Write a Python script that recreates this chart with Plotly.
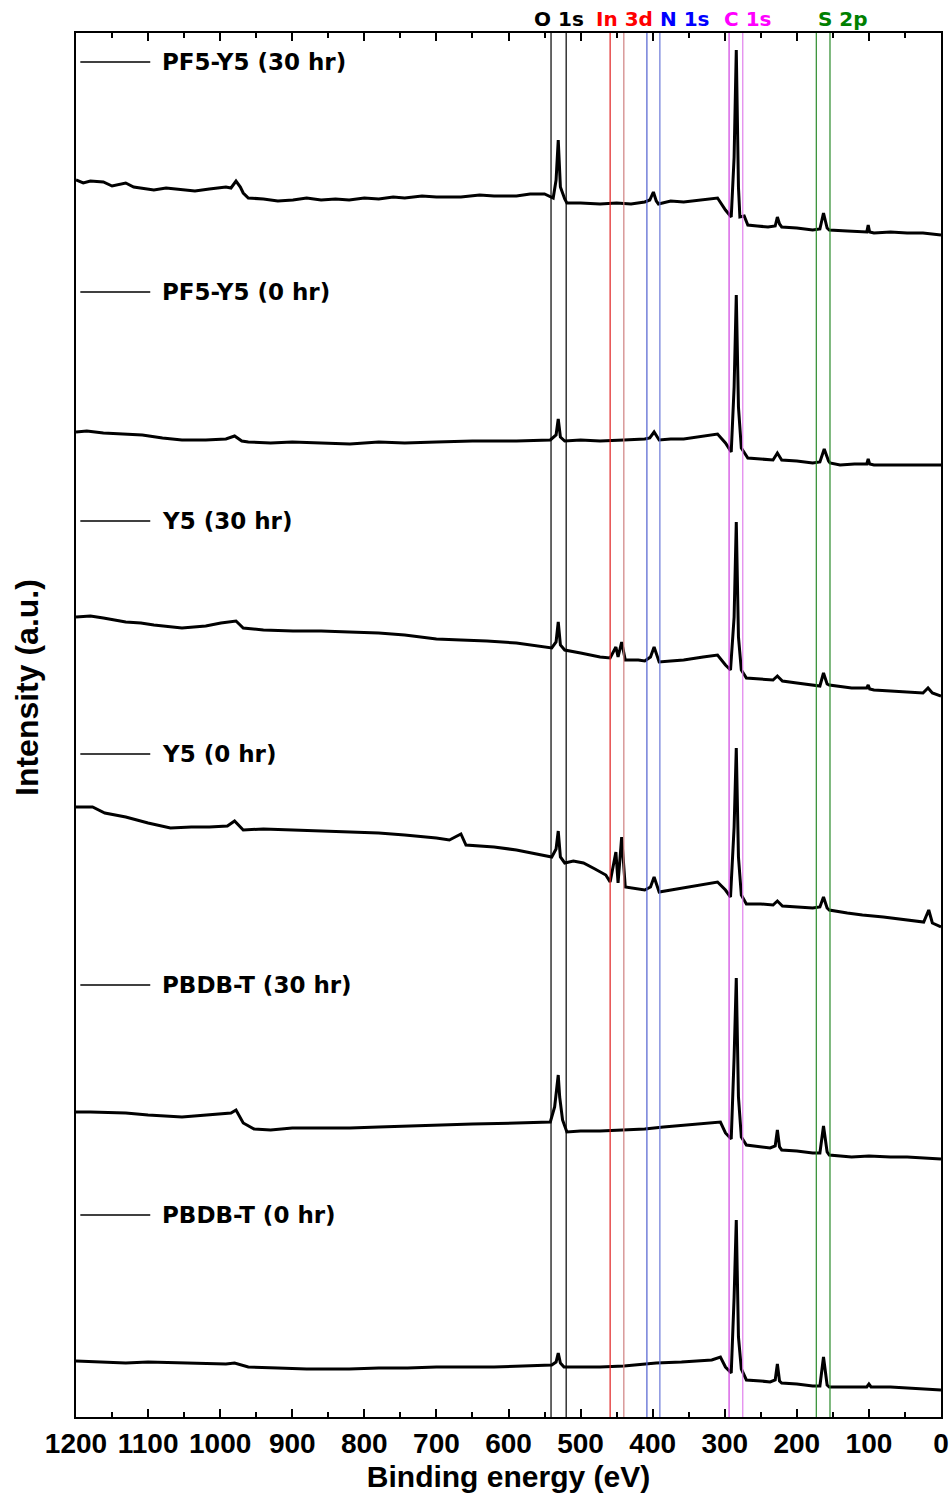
import plotly.graph_objects as go

# ---------------- data (binding energy in eV, intensity in a.u.) ----------------
names = ["PF5-Y5 (30 hr)", "PF5-Y5 (0 hr)", "Y5 (30 hr)", "Y5 (0 hr)", "PBDB-T (30 hr)", "PBDB-T (0 hr)"]

x_pf5y5_30 = [1200, 1190, 1180, 1162, 1150, 1131, 1120, 1092, 1075, 1053, 1035, 1015, 992, 985, 978, 972, 968, 961, 940, 920, 899, 880, 860, 840, 821, 800, 780, 760, 744, 720, 700, 666, 640, 620, 589, 570, 550, 538, 534, 531, 528, 522, 519, 500, 473, 450, 430, 411, 404, 399, 395, 392, 375, 357, 330, 310, 299, 291, 287, 284, 281, 279, 273, 268, 255, 240, 230, 227, 224, 221, 200, 178, 168, 163, 158, 155, 130, 109, 103, 101, 99, 93, 70, 47, 25, 0]
y_pf5y5_30 = [1237, 1234, 1236, 1235, 1231, 1234, 1230, 1227, 1229, 1227, 1226, 1228, 1230, 1229, 1236, 1230, 1224, 1219, 1218, 1216, 1217, 1219, 1217, 1218, 1217, 1219, 1218, 1220, 1219, 1221, 1220, 1220, 1222, 1221, 1221, 1223, 1223, 1219, 1237, 1277, 1230, 1218, 1214, 1214, 1213, 1214, 1213, 1215, 1217, 1225, 1216, 1213, 1216, 1215, 1217, 1219, 1207, 1200, 1260, 1367, 1230, 1200, 1201, 1192, 1191, 1190, 1191, 1200, 1193, 1190, 1189, 1187, 1188, 1204, 1189, 1187, 1186, 1185, 1185, 1192, 1185, 1184, 1185, 1184, 1184, 1182]

x_pf5y5_0 = [1200, 1185, 1162, 1140, 1108, 1080, 1053, 1020, 992, 980, 970, 961, 930, 900, 860, 820, 780, 744, 700, 650, 589, 560, 542, 534, 531, 528, 522, 500, 473, 440, 411, 404, 398, 391, 375, 357, 330, 310, 299, 291, 287, 284, 281, 277, 268, 250, 233, 227, 221, 200, 178, 168, 162, 156, 154, 140, 120, 103, 101, 99, 93, 60, 30, 0]
y_pf5y5_0 = [985, 986, 984, 983, 982, 979, 977, 977, 978, 981, 976, 975, 974, 975, 974, 973, 975, 974, 975, 976, 976, 977, 977, 982, 998, 980, 976, 977, 976, 977, 978, 979, 985, 977, 978, 978, 981, 983, 974, 965, 1030, 1122, 1010, 969, 959, 958, 957, 964, 957, 956, 954, 955, 968, 956, 954, 952, 953, 953, 958, 953, 952, 952, 952, 952]

x_y5_30 = [1200, 1180, 1162, 1131, 1110, 1092, 1053, 1020, 999, 985, 978, 968, 940, 899, 860, 821, 780, 744, 700, 666, 630, 589, 560, 540, 534, 531, 528, 522, 500, 473, 459, 451, 448, 443, 438, 420, 411, 403, 398, 391, 375, 357, 330, 310, 299, 292, 287, 284, 281, 277, 270, 250, 233, 227, 220, 200, 178, 168, 163, 158, 155, 124, 103, 101, 99, 93, 70, 47, 25, 18, 12, 0]
y_y5_30 = [800, 801, 799, 795, 794, 792, 789, 791, 794, 795, 796, 789, 787, 786, 786, 785, 784, 782, 778, 777, 776, 774, 771, 769, 775, 795, 772, 767, 764, 760, 759, 770, 760, 775, 757, 757, 756, 760, 770, 755, 756, 757, 760, 762, 752, 747, 800, 895, 780, 747, 739, 738, 737, 741, 736, 734, 732, 731, 744, 733, 732, 729, 729, 732, 728, 727, 726, 725, 724, 729, 724, 721]

x_y5_0 = [1200, 1177, 1160, 1131, 1100, 1069, 1040, 1015, 990, 980, 968, 940, 899, 860, 821, 780, 744, 700, 682, 666, 659, 620, 589, 560, 540, 534, 531, 528, 522, 510, 496, 480, 465, 459, 451, 448, 443, 438, 420, 411, 403, 398, 391, 375, 357, 330, 310, 299, 292, 287, 284, 281, 277, 270, 250, 233, 227, 220, 200, 178, 168, 163, 158, 155, 130, 109, 80, 47, 24, 17, 12, 0]
y_y5_0 = [610, 610, 604, 600, 594, 589, 590, 590, 591, 596, 587, 588, 587, 586, 585, 584, 582, 579, 577, 583, 572, 570, 567, 563, 560, 568, 586, 560, 554, 556, 554, 548, 542, 535, 565, 534, 580, 530, 528, 527, 530, 540, 525, 527, 529, 532, 535, 527, 520, 590, 669, 560, 522, 513, 513, 512, 516, 511, 510, 509, 510, 520, 509, 507, 504, 502, 500, 497, 495, 507, 494, 490]

x_pbdbt_30 = [1200, 1180, 1131, 1100, 1053, 1020, 992, 985, 978, 972, 968, 953, 930, 900, 860, 820, 780, 744, 700, 650, 589, 560, 542, 536, 533, 531, 529, 525, 519, 500, 473, 440, 411, 385, 357, 330, 306, 299, 291, 287, 284, 281, 277, 270, 250, 237, 230, 227, 224, 221, 200, 178, 168, 163, 158, 155, 124, 100, 70, 47, 0]
y_pbdbt_30 = [305, 305, 304, 302, 300, 302, 303, 304, 307, 300, 294, 288, 287, 289, 289, 289, 290, 291, 292, 293, 294, 295, 295, 310, 330, 342, 320, 297, 285, 286, 286, 287, 288, 290, 292, 294, 295, 284, 278, 360, 439, 320, 280, 272, 270, 269, 271, 287, 270, 267, 266, 264, 264, 291, 265, 262, 260, 261, 260, 260, 258]

x_pbdbt_0 = [1200, 1170, 1131, 1100, 1050, 992, 980, 961, 920, 880, 821, 780, 740, 700, 666, 620, 580, 540, 534, 531, 528, 523, 500, 473, 440, 395, 360, 330, 318, 306, 299, 291, 287, 284, 281, 277, 270, 250, 237, 230, 227, 224, 221, 200, 178, 168, 163, 158, 155, 130, 103, 100, 97, 70, 47, 0]
y_pbdbt_0 = [56, 55, 54, 55, 54, 53, 54, 50, 49, 48, 48, 49, 49, 50, 50, 50, 51, 52, 55, 64, 54, 50, 50, 50, 51, 54, 55, 56, 57, 60, 50, 44, 120, 197, 80, 48, 37, 36, 35, 37, 53, 36, 34, 33, 31, 31, 60, 32, 30, 30, 30, 33, 30, 30, 29, 27]

spectra_x = [x_pf5y5_30, x_pf5y5_0, x_y5_30, x_y5_0, x_pbdbt_30, x_pbdbt_0]
spectra_y = [y_pf5y5_30, y_pf5y5_0, y_y5_30, y_y5_0, y_pbdbt_30, y_pbdbt_0]

# label heights (a.u.) for the in-plot sample labels
label_y = [1355, 1125, 896, 663, 432, 202]

# peak region markers (pairs of binding energies, eV)
regions = ["O 1s", "In 3d", "N 1s", "C 1s", "S 2p"]
region_lines = [[541, 520], [459, 440], [408, 390], [294, 275], [173, 154]]
region_line_colors = [["#000000", "#000000"], ["#e02020", "#d08080"], ["#5060d0", "#6a78d8"],
                      ["#d040e0", "#e080ec"], ["#2a8a2a", "#2a8a2a"]]
region_text_colors = ["#000000", "#ff0000", "#0000ff", "#ff00ff", "#008000"]
region_text_x = [567, 481, 393, 304, 173]

x_ticks = list(range(0, 1201, 100))

# ---------------- figure ----------------
FONT = "Liberation Sans, Arial, sans-serif"
WIDE = "DejaVu Sans, Liberation Sans, sans-serif"
fig = go.Figure()

for xs, ys, nm in zip(spectra_x, spectra_y, names):
    fig.add_trace(go.Scatter(x=xs, y=ys, mode="lines", name=nm,
                             line=dict(color="black", width=3), showlegend=False))

for pair, cols in zip(region_lines, region_line_colors):
    for xv, c in zip(pair, cols):
        fig.add_vline(x=xv, line=dict(color=c, width=1.2), layer="above")

for nm, yl in zip(names, label_y):
    fig.add_trace(go.Scatter(x=[1194, 1097], y=[yl, yl], mode="lines",
                             line=dict(color="black", width=1.5), showlegend=False))
    fig.add_annotation(x=1083, y=yl, xref="x", yref="y", text=nm, showarrow=False,
                       xanchor="left", yanchor="middle",
                       font=dict(family=WIDE, size=23, color="black", weight="bold"))

for txt, col, xt in zip(regions, region_text_colors, region_text_x):
    fig.add_annotation(x=xt, y=1.0, xref="x", yref="paper", text=txt, showarrow=False,
                       xanchor="left", yanchor="bottom", yshift=0,
                       font=dict(family=WIDE, size=20, color=col, weight="bold"))

fig.add_annotation(x=0, y=0.5, xref="paper", yref="paper", xshift=-49, yshift=37,
                   text="Intensity (a.u.)", textangle=-90, showarrow=False,
                   xanchor="center", yanchor="middle",
                   font=dict(family=FONT, size=32, color="black", weight="bold"))

fig.update_layout(
    width=952, height=1494,
    margin=dict(l=76, r=11, t=33, b=77),
    plot_bgcolor="white", paper_bgcolor="white",
    showlegend=False,
)
fig.update_xaxes(
    range=[1200, 0], tickvals=x_ticks, ticktext=[str(v) for v in x_ticks],
    ticks="inside", ticklen=8, tickwidth=2, tickcolor="black",
    minor=dict(dtick=50, ticks="inside", ticklen=5, tickwidth=1.5, tickcolor="black"),
    showline=True, linecolor="black", linewidth=2, mirror="allticks",
    showgrid=False, zeroline=False, automargin=False,
    tickfont=dict(family=FONT, size=28, color="black", weight="bold"),
    title=dict(text="Binding energy (eV)", standoff=8,
               font=dict(family=FONT, size=30, color="black", weight="bold")),
)
fig.update_yaxes(
    range=[0, 1384], showticklabels=False, ticks="",
    showline=True, linecolor="black", linewidth=2, mirror=True,
    showgrid=False, zeroline=False, automargin=False,
)

fig.write_html("out.html")
